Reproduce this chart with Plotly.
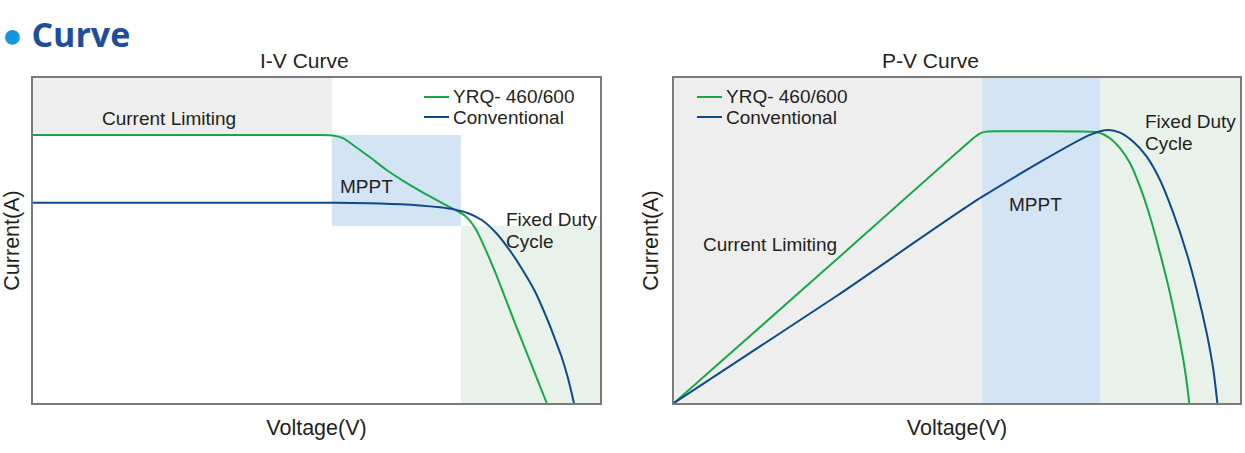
import plotly.graph_objects as go

# ---------------- data ----------------
series_names = ["YRQ- 460/600", "Conventional"]

# I-V curve (normalised voltage / current, 0-100)
iv_v_yrq = [0, 50, 52.91, 54.67, 56.44, 59.44, 62.43, 65.43, 68.25, 71.78, 74.43, 76.19,
            77.95, 79.72, 81.48, 83.25, 85.01, 86.77, 88.54, 90.6]
iv_i_yrq = [82.46, 82.46, 82.3, 81.5, 79.4, 75.6, 71.6, 68.2, 65.3, 61.9, 59.4, 57.6,
            53.9, 47.6, 40.4, 32.46, 24.52, 16.77, 9.02, 0]
iv_v_conv = [0, 50, 52.91, 61.20, 68.25, 71.78, 74.43, 76.77, 79.14, 81.48, 83.83, 86.19,
             88.54, 90.88, 92.06, 93.24, 94.36, 95.41]
iv_i_conv = [61.63, 61.63, 61.6, 61.4, 60.8, 60.2, 59.5, 58.4, 56.3, 52.7, 47.6, 41.4,
             34.3, 25.0, 19.7, 14.15, 7.6, 0]

# P-V curve
pv_v_yrq = [0, 26.8, 53.0, 54.0, 55.2, 57.0, 65.0, 73.5, 74.96, 77.03, 78.80, 80.57, 82.33,
            84.10, 85.87, 87.63, 89.12, 90.28, 91.04]
pv_p_yrq = [0, 41.2, 81.6, 82.9, 83.5, 83.6, 83.6, 83.5, 83.3, 81.45, 78.4, 73.75, 66.55,
            57.3, 46.1, 33.75, 21.45, 10.15, 0]
pv_v_conv = [0, 28.8, 54.4, 73.5, 76.73, 78.80, 81.15, 83.52, 85.87, 88.22, 90.58,
             92.35, 94.12, 95.3, 96.0]
pv_p_conv = [0, 33.0, 63.4, 82.5, 84.0, 83.2, 80.4, 75.8, 68.6, 58.4, 46.1,
             34.8, 21.45, 10.15, 0]

# operating regions: (label, x0, x1, y0, y1)
iv_regions = [("Current Limiting", 0, 52.7, 82.5, 100),
              ("MPPT", 52.7, 75.5, 54.5, 82.5),
              ("Fixed Duty Cycle", 75.5, 100, 0, 54.5)]
pv_regions = [("Current Limiting", 0, 54.4, 0, 100),
              ("MPPT", 54.4, 75.3, 0, 100),
              ("Fixed Duty Cycle", 75.3, 100, 0, 100)]

# ---------------- styles ----------------
GREEN = "#18a748"
BLUE = "#0c4a8a"
SERIES_COLORS = [GREEN, BLUE]
REGION_COLORS = ["#eeeeee", "#d3e4f5", "#e8f2ea"]
TXT = "#231f20"
FONT = "Liberation Sans, Arial, sans-serif"
W, H = 1245, 453

fig = go.Figure()

def add_curve(x, y, name, color, xa, ya):
    fig.add_trace(go.Scatter(x=x, y=y, name=name, mode="lines",
                             line=dict(color=color, width=2, shape="spline", smoothing=0.7),
                             xaxis=xa, yaxis=ya, showlegend=False, hoverinfo="skip"))

add_curve(iv_v_yrq, iv_i_yrq, series_names[0], GREEN, "x", "y")
add_curve(iv_v_conv, iv_i_conv, series_names[1], BLUE, "x", "y")
add_curve(pv_v_yrq, pv_p_yrq, series_names[0], GREEN, "x2", "y2")
add_curve(pv_v_conv, pv_p_conv, series_names[1], BLUE, "x2", "y2")

shapes = []
for regions, xr, yr in ((iv_regions, "x", "y"), (pv_regions, "x2", "y2")):
    for (lab, x0, x1, y0, y1), col in zip(regions, REGION_COLORS):
        shapes.append(dict(type="rect", xref=xr, yref=yr, x0=x0, x1=x1, y0=y0, y1=y1,
                           fillcolor=col, line=dict(width=0), layer="below"))

def ann(text, x, y, xref, yref, size=19, xanchor="left", align="left", color=TXT, font=FONT):
    return dict(text=text, x=x, y=y, xref=xref, yref=yref, showarrow=False,
                xanchor=xanchor, yanchor="middle", align=align,
                font=dict(size=size, color=color, family=font))

def px(xp):
    return xp / W

def py(yp):
    return 1 - yp / H

annotations = [
    ann("Current Limiting", 24.0, 87.4, "x", "y", xanchor="center"),
    ann("MPPT", 53.8, 66.5, "x", "y"),
    ann("Fixed Duty", 83.1, 56.6, "x", "y"),
    ann("Cycle", 83.1, 49.8, "x", "y"),
    ann("Current Limiting", 4.7, 48.9, "x2", "y2"),
    ann("MPPT", 58.8, 61.2, "x2", "y2"),
    ann("Fixed Duty", 82.9, 86.5, "x2", "y2"),
    ann("Cycle", 82.9, 79.8, "x2", "y2"),
    ann("I-V Curve", px(304), py(60), "paper", "paper", size=21, xanchor="center"),
    ann("P-V Curve", px(930), py(60), "paper", "paper", size=21, xanchor="center"),
]

# legends (one per panel): sample line + series name
legend_pos = [(424, 97), (697, 97)]
for lx, ly in legend_pos:
    for i, (name, col) in enumerate(zip(series_names, SERIES_COLORS)):
        yy = ly + i * 20
        shapes.append(dict(type="line", xref="paper", yref="paper",
                           x0=px(lx), x1=px(lx + 25), y0=py(yy), y1=py(yy),
                           line=dict(color=col, width=2)))
        annotations.append(ann(name, px(lx + 27), py(yy), "paper", "paper"))

axis_common = dict(showline=True, mirror=True, linecolor="#7a7a7a", linewidth=1.5,
                   showgrid=False, zeroline=False, showticklabels=False, ticks="",
                   range=[0, 100], fixedrange=True)
xdom1 = [px(33), px(600)]
xdom2 = [px(674), px(1240)]
ydom = [py(403), py(78)]
title_font = dict(size=21.5, color=TXT, family=FONT)

fig.update_layout(
    width=W, height=H,
    margin=dict(l=0, r=0, t=0, b=0),
    paper_bgcolor="white", plot_bgcolor="white",
    title=dict(text="<span style='color:#1597de;font-size:34px'>● </span>Curve",
               x=px(2), xanchor="left", y=py(35), yanchor="middle",
               font=dict(family="Open Sans", size=34, color="#1f4c9b", weight="bold")),
    xaxis=dict(domain=xdom1, anchor="y",
               title=dict(text="Voltage(V)", font=title_font, standoff=16), **axis_common),
    yaxis=dict(domain=ydom, anchor="x",
               title=dict(text="Current(A)", font=title_font, standoff=8), **axis_common),
    xaxis2=dict(domain=xdom2, anchor="y2",
                title=dict(text="Voltage(V)", font=title_font, standoff=16), **axis_common),
    yaxis2=dict(domain=ydom, anchor="x2",
                title=dict(text="Current(A)", font=title_font, standoff=8), **axis_common),
    shapes=shapes,
    annotations=annotations,
)

fig.write_html("out.html", config={"displayModeBar": False},
               post_script="document.body.style.margin='0';")
